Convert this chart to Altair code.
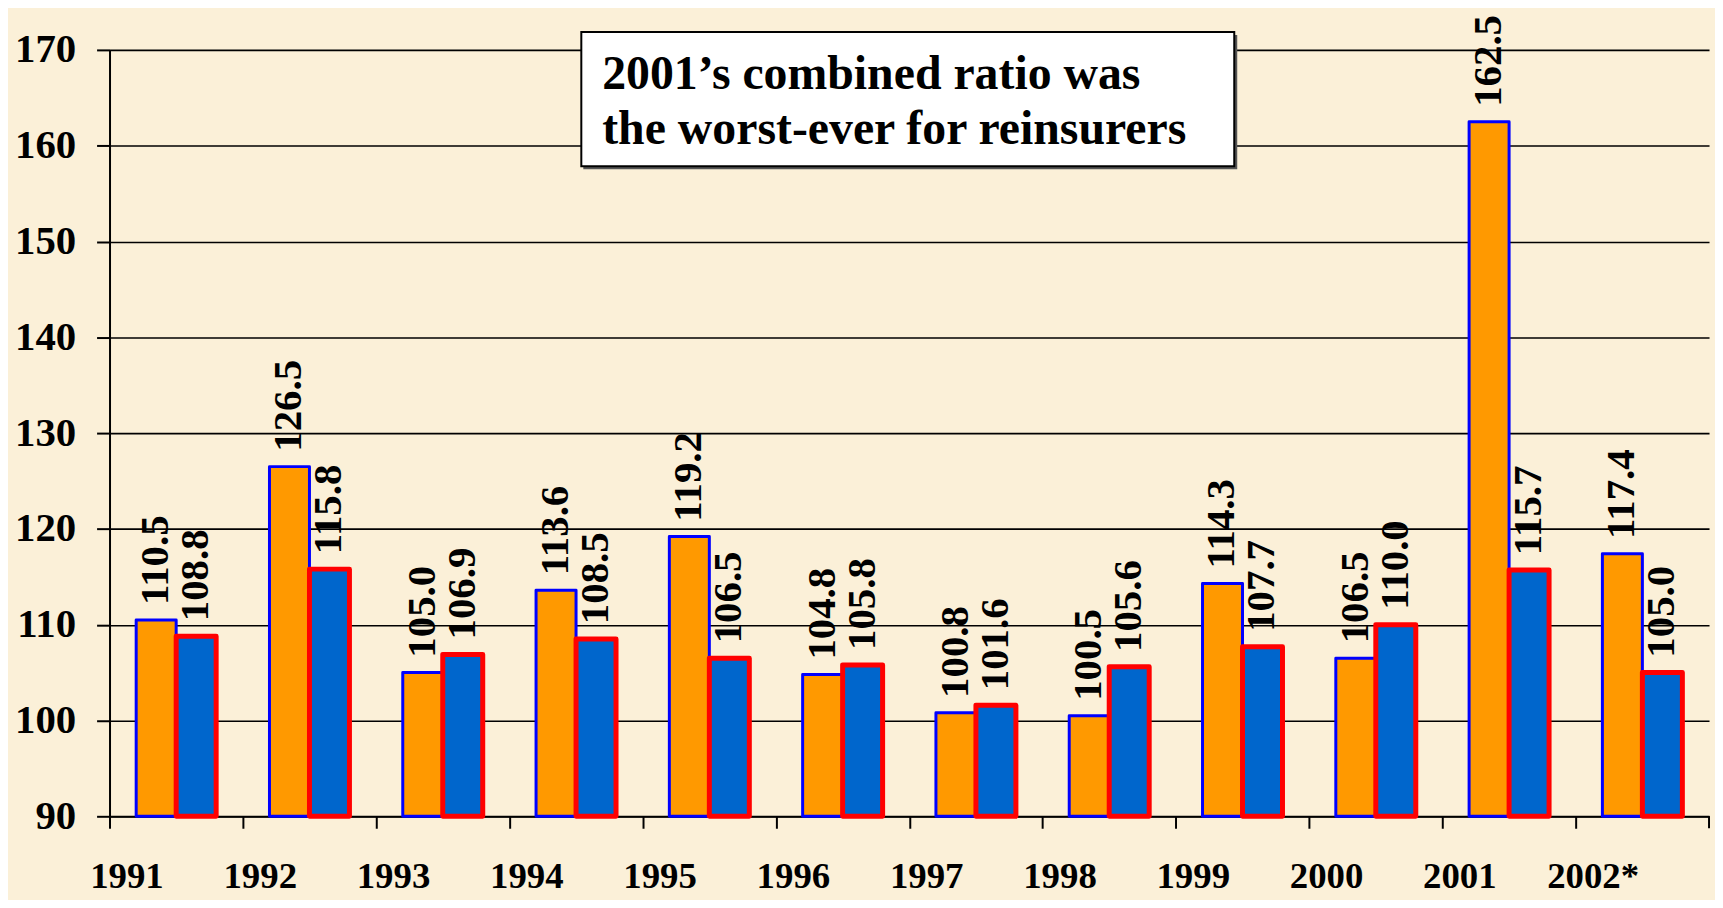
import altair as alt
import pandas as pd

years = ["1991", "1992", "1993", "1994", "1995", "1996", "1997", "1998", "1999", "2000", "2001", "2002*"]
reinsurers = [110.5, 126.5, 105.0, 113.6, 119.2, 104.8, 100.8, 100.5, 114.3, 106.5, 162.5, 117.4]
industry = [108.8, 115.8, 106.9, 108.5, 106.5, 105.8, 101.6, 105.6, 107.7, 110.0, 115.7, 105.0]
series_names = ["Reinsurers", "P/C Industry"]
note_lines = ["2001\u2019s combined ratio was", "the worst-ever for reinsurers"]

rows = []
for y, a, b in zip(years, reinsurers, industry):
    rows.append({"year": y, "series": series_names[0], "value": a})
    rows.append({"year": y, "series": series_names[1], "value": b})
df = pd.DataFrame(rows)

W, H = 1607, 770
STEP = W / len(years)
FONT = "Liberation Serif"

x_enc = alt.X("year:N", sort=years, title=None,
              scale=alt.Scale(paddingInner=0.4, paddingOuter=0.2),
              axis=alt.Axis(labelAngle=0, labelFont=FONT, labelFontSize=37,
                            labelFontWeight="bold", labelColor="black",
                            labelBaseline="alphabetic", labelPadding=60,
                            tickOffset=-STEP / 2, labelOffset=17,
                            tickColor="black", tickWidth=2, tickSize=12,
                            domainColor="black", domainWidth=2, grid=False))
xo_enc = alt.XOffset("series:N", sort=series_names, scale=alt.Scale(paddingInner=0, paddingOuter=0))
y_scale = alt.Scale(domain=[90, 170], zero=False, nice=False)

base = alt.Chart(df)

bars = base.mark_bar(strokeJoin="round").encode(
    x=x_enc,
    xOffset=xo_enc,
    y=alt.Y("value:Q", scale=y_scale, title=None,
            axis=alt.Axis(values=list(range(90, 171, 10)), labelFont=FONT, labelFontSize=41,
                          labelFontWeight="bold", labelColor="black", labelPadding=21,
                          tickColor="black", tickWidth=2, tickSize=13,
                          domainColor="black", domainWidth=2,
                          grid=True, gridColor="black", gridWidth=1.6)),
    y2=alt.datum(90),
    fill=alt.Fill("series:N", sort=series_names, legend=None,
                  scale=alt.Scale(domain=series_names, range=["#FF9900", "#0066CC"])),
    stroke=alt.Stroke("series:N", sort=series_names, legend=None,
                      scale=alt.Scale(domain=series_names, range=["#0000FF", "#FF0000"])),
    strokeWidth=alt.StrokeWidth("series:N", sort=series_names, legend=None,
                                scale=alt.Scale(domain=series_names, range=[3, 5])),
)

labels = base.mark_text(angle=270, align="left", baseline="middle", dx=15,
                        font=FONT, fontSize=41, fontWeight="bold", color="black").encode(
    x=alt.X("year:N", sort=years),
    xOffset=xo_enc,
    y=alt.Y("value:Q", scale=y_scale),
    text=alt.Text("value:Q", format=".1f"),
)

end_tick = alt.Chart(pd.DataFrame({"a": [0]})).mark_rule(color="black", strokeWidth=2).encode(
    x=alt.value(W), y=alt.value(H), y2=alt.value(H + 12))

shadow = alt.Chart(pd.DataFrame({"a": [0]})).mark_rect(fill="#555555").encode(
    x=alt.value(476), x2=alt.value(1133), y=alt.value(-15), y2=alt.value(120))
box = alt.Chart(pd.DataFrame({"a": [0]})).mark_rect(fill="white", stroke="black", strokeWidth=2).encode(
    x=alt.value(474), x2=alt.value(1130), y=alt.value(-18), y2=alt.value(117))
note = alt.Chart(pd.DataFrame({"a": [0]})).mark_text(
    text=note_lines, align="left", baseline="alphabetic", lineHeight=56,
    font=FONT, fontSize=48, fontWeight="bold", color="black").encode(
    x=alt.value(495), y=alt.value(39))

chart = alt.layer(bars, labels, end_tick, shadow, box, note).properties(
    width=W, height=H,
    background="#FBF0D8",
    padding={"left": 102, "top": 40, "right": 6, "bottom": 82},
    autosize=alt.AutoSizeParams(type="none"),
).configure_view(stroke=None)

chart.save("out.html", embed_options={"renderer": "svg", "actions": False})
